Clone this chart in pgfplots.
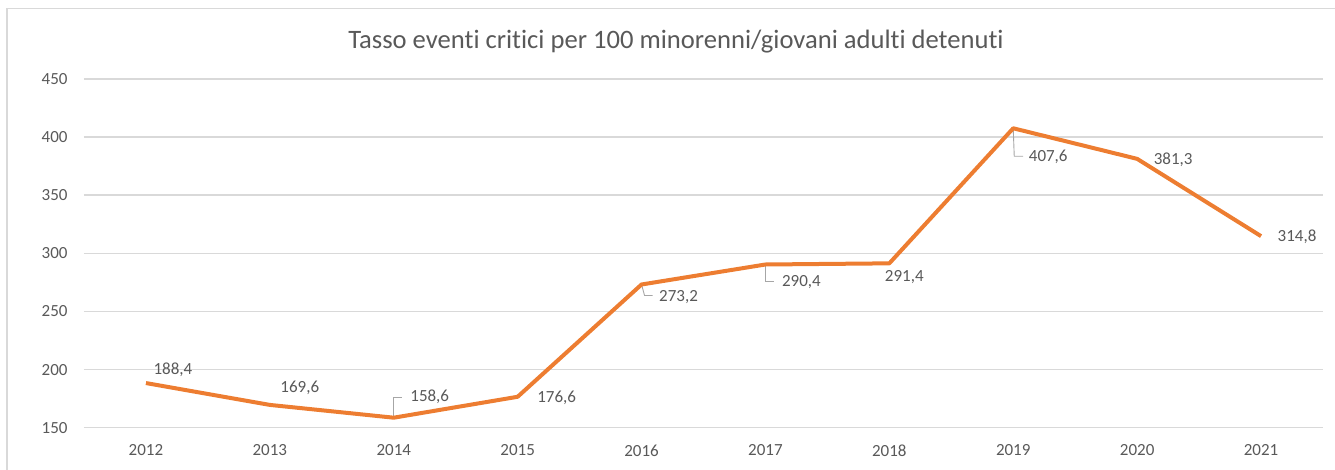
\documentclass[border=0pt]{standalone}
\usepackage{pgfplots}
\pgfplotsset{compat=1.18}
\usepackage{pgfplotstable}
\usepackage{fontspec}
\setmainfont{Carlito}[Ligatures=NoCommon]

\definecolor{lineorange}{HTML}{ED7D31}
\definecolor{txtgray}{HTML}{595959}
\definecolor{gridgray}{HTML}{D9D9D9}
\definecolor{leadergray}{HTML}{A6A6A6}

% year index, rate, label offset (pt) from the point
\pgfplotstableread{
x y dx dy
0 188.4 13.5 6.5
1 169.6 15 8.5
2 158.6 18 10.5
3 176.6 19.5 -0.5
4 273.2 18.5 -6.25
5 290.4 18 -8.75
6 291.4 7.5 -7
7 407.6 17.5 -14.5
8 381.3 18 -0.5
9 314.8 18 -0.5
}\ratetable

\begin{document}
\begin{tikzpicture}
\begin{axis}[
  scale only axis,
  width=619.5pt, height=174.35pt,
  xmin=-0.5, xmax=9.5,
  ymin=150, ymax=450,
  ytick={150,200,...,450},
  xtick={0,...,9},
  xticklabels={2012,2013,2014,2015,2016,2017,2018,2019,2020,2021},
  axis line style={draw=none},
  major tick length=0pt,
  ymajorgrids,
  grid style={gridgray, line width=0.75pt},
  /pgf/number format/assume math mode=true,
  tick label style={font=\fontsize{8.5}{10}\selectfont, text=txtgray},
  yticklabel style={anchor=east, inner sep=0pt, xshift=-8pt},
  xticklabel style={anchor=north, inner sep=0pt, yshift=-8.3pt},
  clip=false,
]
% leader lines from points to their labels
\draw[leadergray, line width=0.45pt] (axis cs:2,158.6) -- ++(0pt,10pt) -- ++(4pt,0pt);
\draw[leadergray, line width=0.45pt] (axis cs:4,273.2) -- ++(1.5pt,-5.5pt) -- ++(4pt,0pt);
\draw[leadergray, line width=0.45pt] (axis cs:5,290.4) -- ++(0pt,-8.5pt) -- ++(4.5pt,0pt);
\draw[leadergray, line width=0.45pt] (axis cs:7,407.6) -- ++(0.5pt,-14pt) -- ++(4.5pt,0pt);

\addplot[
  lineorange, line width=2pt, line join=round, mark=none,
  point meta=y,
  visualization depends on={\thisrow{dx} \as \dx},
  visualization depends on={\thisrow{dy} \as \dy},
  nodes near coords={\pgfmathprintnumber[fixed,fixed zerofill,precision=1,use comma]{\pgfplotspointmeta}},
  nodes near coords style={anchor=center, xshift=\dx pt, yshift=\dy pt,
    font=\fontsize{8.5}{10}\selectfont, text=txtgray, inner sep=0pt},
] table[x=x, y=y] {\ratetable};

\node[font=\fontsize{13.3}{15}\selectfont, text=txtgray, anchor=center]
  at (rel axis cs:0.4778,1.106) {Tasso eventi critici per 100 minorenni/giovani adulti detenuti};
\end{axis}
\pgfresetboundingbox
\useasboundingbox (-42pt,-21.15pt) rectangle (625.5pt,213.85pt);
\draw[gridgray, line width=0.75pt] (-38.5pt,-40pt) rectangle (650pt,209.6pt);
\end{tikzpicture}
\end{document}
